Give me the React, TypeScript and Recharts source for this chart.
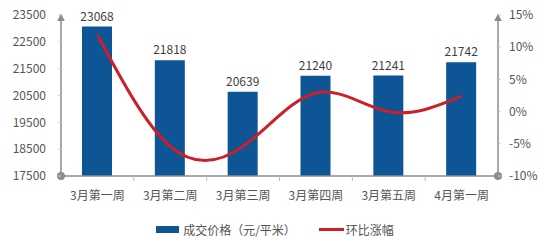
import React from 'react';
import { ComposedChart, Bar, Line, XAxis, YAxis, LabelList, Legend } from 'recharts';

const categories = ['3月第一周', '3月第二周', '3月第三周', '3月第四周', '3月第五周', '4月第一周'];
const prices = [23068, 21818, 20639, 21240, 21241, 21742];
const changes = [11.9, -5.4, -5.4, 2.9, 0.0, 2.4];
const leftTicks = [17500, 18500, 19500, 20500, 21500, 22500, 23500];
const rightTicks = [-10, -5, 0, 5, 10, 15];

const data = categories.map((c, i) => ({ name: c, price: prices[i], change: changes[i] }));

const BAR = '#0E5596';
const RED = '#CC1F27';
const AXIS = '#8C8C8C';
const TXT = '#555555';
const FONT = '"Noto Sans CJK SC", "Liberation Sans", sans-serif';

const XTick = (props: any) => {
  const { x, y, payload, index } = props;
  const n = categories.length;
  const bw = 437 / n;
  return (
    <g>
      {index > 0 && (
        <line x1={x - bw / 2} x2={x - bw / 2} y1={y - 7} y2={y - 2} stroke="#BBBBBB" strokeWidth={1} />
      )}
      <text x={x} y={y + 17} textAnchor="middle" fill={TXT} fontSize={12} fontFamily={FONT}>
        {payload.value}
      </text>
    </g>
  );
};

const LegendContent = () => (
  <div style={{ display: 'flex', justifyContent: 'center', alignItems: 'center', fontFamily: FONT, fontSize: 12, color: TXT }}>
    <span style={{ display: 'inline-block', width: 23, height: 7, background: BAR, marginRight: 4 }} />
    <span>成交价格（元/平米）</span>
    <span style={{ display: 'inline-block', width: 25, height: 3, background: RED, marginLeft: 23, marginRight: 2 }} />
    <span>环比涨幅</span>
  </div>
);

export default function App() {
  return (
    <div style={{ position: 'absolute', left: 0, top: 0, width: 550, height: 249, background: '#fff' }}>
      <svg width={0} height={0} style={{ position: 'absolute' }}>
        <defs>
          <marker id="arrowUp" viewBox="0 0 10 10" refX="5" refY="2" markerWidth="8" markerHeight="8" markerUnits="userSpaceOnUse" orient="0">
            <path d="M0,10 L5,0 L10,10 Z" fill={AXIS} />
          </marker>
          <marker id="dot" viewBox="0 0 10 10" refX="5" refY="5" markerWidth="8" markerHeight="8" markerUnits="userSpaceOnUse">
            <circle cx="5" cy="5" r="5" fill={AXIS} />
          </marker>
        </defs>
      </svg>
      <ComposedChart width={550} height={249} data={data} margin={{ top: 15, right: 0, bottom: 0, left: 0 }}>
        <XAxis
          dataKey="name"
          axisLine={{ stroke: AXIS, strokeWidth: 1.5 }}
          tickLine={false}
          tickSize={5}
          height={56}
          interval={0}
          tick={<XTick />}
        />
        <YAxis
          yAxisId="left"
          orientation="left"
          width={61}
          domain={[17500, 23500]}
          ticks={leftTicks}
          interval={0}
          axisLine={{ stroke: AXIS, strokeWidth: 1.5, markerStart: 'url(#arrowUp)', markerEnd: 'url(#dot)' }}
          tickLine={{ stroke: '#CCCCCC' }}
          tickSize={3}
          tickMargin={12}
          tick={{ fill: TXT, fontSize: 12, fontFamily: FONT }}
        />
        <YAxis
          yAxisId="right"
          orientation="right"
          width={52}
          domain={[-10, 15]}
          ticks={rightTicks}
          interval={0}
          tickFormatter={(v: number) => `${v}%`}
          axisLine={{ stroke: AXIS, strokeWidth: 1.5, markerStart: 'url(#arrowUp)', markerEnd: 'url(#dot)' }}
          tickLine={{ stroke: '#CCCCCC' }}
          tickSize={3}
          tickMargin={8}
          tick={{ fill: TXT, fontSize: 12, fontFamily: FONT }}
        />
        <Bar yAxisId="left" dataKey="price" fill={BAR} barSize={30} isAnimationActive={false}>
          <LabelList dataKey="price" position="top" offset={6} fill="#404040" fontSize={12} fontFamily={FONT} />
        </Bar>
        <Line
          yAxisId="right"
          type="natural"
          dataKey="change"
          stroke={RED}
          strokeWidth={3}
          dot={false}
          activeDot={false}
          isAnimationActive={false}
        />
        <Legend
          verticalAlign="bottom"
          content={<LegendContent />}
          wrapperStyle={{ left: 0, width: 550, top: 221, bottom: 'auto' }}
        />
      </ComposedChart>
    </div>
  );
}
